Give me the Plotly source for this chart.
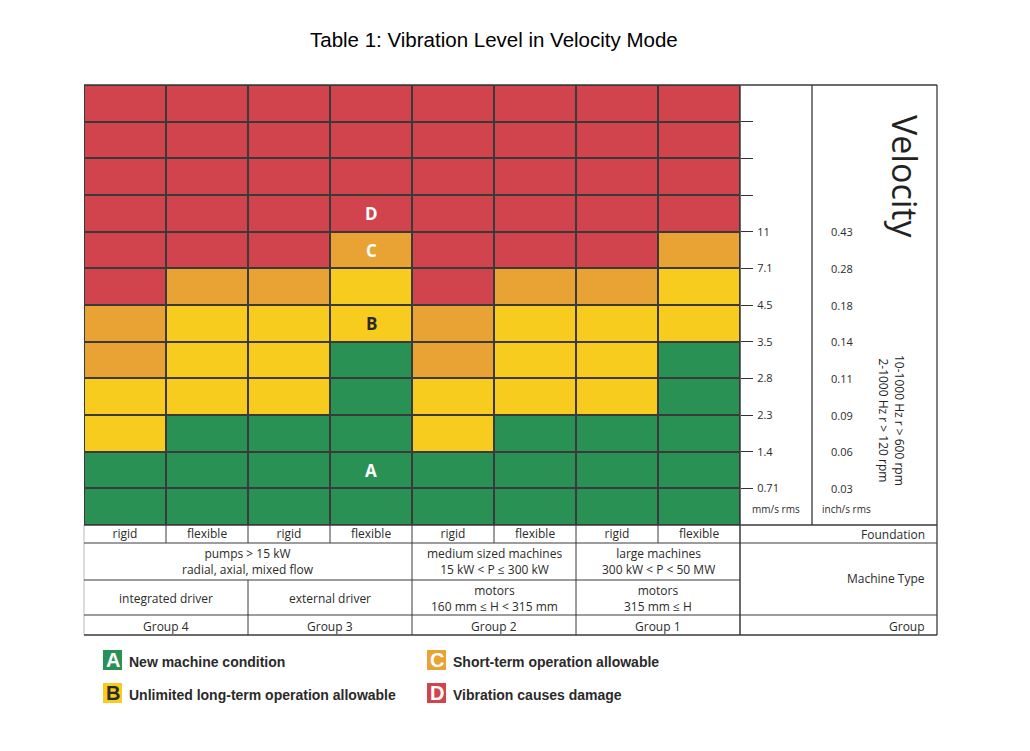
import math
import plotly.graph_objects as go

# ---------------- data ----------------
foundations = ["rigid", "flexible", "rigid", "flexible", "rigid", "flexible", "rigid", "flexible"]
groups = ["Group 4", "Group 3", "Group 2", "Group 1"]
group_cols = [(0, 1), (2, 3), (4, 5), (6, 7)]
machine_types = ["pumps > 15 kW<br>radial, axial, mixed flow",
                 "medium sized machines<br>15 kW < P ≤ 300 kW",
                 "large machines<br>300 kW < P < 50 MW"]
machine_cols = [(0, 3), (4, 5), (6, 7)]
drivers = ["integrated driver", "external driver",
           "motors<br>160 mm ≤ H < 315 mm", "motors<br>315 mm ≤ H"]
driver_cols = [(0, 1), (2, 3), (4, 5), (6, 7)]

# band upper limits, bottom to top (mm/s rms); bands above 11 are unlabeled
mm_values = [0.71, 1.4, 2.3, 2.8, 3.5, 4.5, 7.1, 11]
mm_labels = ["0.71", "1.4", "2.3", "2.8", "3.5", "4.5", "7.1", "11", "", "", ""]
inch_labels = ["0.03", "0.06", "0.09", "0.11", "0.14", "0.18", "0.28", "0.43"]
n_bands = 12

# zone limits per column (mm/s rms)
zone_ab = [1.4, 2.3, 2.3, 3.5, 1.4, 2.3, 2.3, 3.5]
zone_bc = [2.8, 4.5, 4.5, 7.1, 2.8, 4.5, 4.5, 7.1]
zone_cd = [4.5, 7.1, 7.1, 11, 4.5, 7.1, 7.1, 11]

zone_letters = ["A", "B", "C", "D"]
zone_colors = ["#2a9155", "#f8cc1f", "#e8a334", "#d1444e"]
zone_text_colors = ["white", "#2a2a2a", "white", "white"]
zone_descriptions = ["New machine condition", "Unlimited long-term operation allowable",
                     "Short-term operation allowable", "Vibration causes damage"]
letter_band = [1, 5, 7, 8]   # band where each zone letter is printed (column 3)
letter_col = 3

# ---------------- build matrix ----------------
z = []
for b in range(n_bands):
    upper = mm_values[b] if b < len(mm_values) else math.inf
    row = []
    for c in range(len(foundations)):
        if upper <= zone_ab[c]:
            row.append(0)
        elif upper <= zone_bc[c]:
            row.append(1)
        elif upper <= zone_cd[c]:
            row.append(2)
        else:
            row.append(3)
    z.append(row)

colorscale = [[0.0, zone_colors[0]], [0.25, zone_colors[0]],
              [0.25, zone_colors[1]], [0.5, zone_colors[1]],
              [0.5, zone_colors[2]], [0.75, zone_colors[2]],
              [0.75, zone_colors[3]], [1.0, zone_colors[3]]]

# ---------------- layout geometry (page pixels) ----------------
OFF = 8                      # page body margin
W, H = 1014, 735
L, R, T, B = 84, 740, 85, 525   # plot area in page pixels


def px(x):
    return (x - L) / (R - L)


def py(y):
    return (B - y) / (B - T)


FONT = "Open Sans"
TXT = "#2b2b2b"
LINE = "#3a3a3a"

fig = go.Figure()
fig.add_trace(go.Heatmap(
    z=z, x=list(range(len(foundations))), y=list(range(n_bands)),
    colorscale=colorscale, zmin=-0.5, zmax=3.5, showscale=False,
    xgap=2, ygap=2, hoverinfo="skip"))

shapes = []
annotations = []


def ann(**kw):
    kw.setdefault("showarrow", False)
    kw.setdefault("xanchor", "center")
    kw.setdefault("yanchor", "middle")
    annotations.append(kw)


def hline(y, x0, x1, w=1.2, color=LINE):
    shapes.append(dict(type="line", xref="paper", yref="paper",
                       x0=px(x0), x1=px(x1), y0=py(y), y1=py(y),
                       line=dict(color=color, width=w)))


def vline_data(xd, y0, y1, w=1.2):
    shapes.append(dict(type="line", xref="x", yref="paper",
                       x0=xd, x1=xd, y0=py(y0), y1=py(y1),
                       line=dict(color=LINE, width=w)))


def vline(x, y0, y1, w=1.2, color=LINE):
    shapes.append(dict(type="line", xref="paper", yref="paper",
                       x0=px(x), x1=px(x), y0=py(y0), y1=py(y1),
                       line=dict(color=color, width=w)))


# outer frame / right panel
hline(85, 84, 937, 1.5)
vline(937, 85, 635, 1.3)
vline(740, 85, 635, 1.5)
vline(812, 85, 525, 1.3)
vline(84, 525, 635, 0.8, "#aaaaaa")
# bottom table rows
hline(525, 84, 937, 1.5)
hline(543, 84, 937, 1.0)
hline(580, 84, 740, 1.0)
hline(615, 84, 937, 1.0)
hline(635, 84, 937, 1.3)

# vertical separators in bottom table, from column boundaries
for c in range(1, len(foundations)):
    vline_data(c - 0.5, 525, 543, 1.0)
for (a, bcol) in machine_cols[:-1]:
    vline_data(bcol + 0.5, 543, 580, 1.0)
for (a, bcol) in driver_cols[:-1]:
    vline_data(bcol + 0.5, 580, 615, 1.0)
for (a, bcol) in group_cols[:-1]:
    vline_data(bcol + 0.5, 615, 635, 1.0)

tfont = dict(family=FONT, size=12, color=TXT)
# table text
for txt, (a, bcol) in zip(machine_types, machine_cols):
    ann(x=(a + bcol) / 2, y=py(561), xref="x", yref="paper", text=txt, font=tfont)
for txt, (a, bcol) in zip(drivers, driver_cols):
    ann(x=(a + bcol) / 2, y=py(598), xref="x", yref="paper", text=txt, font=tfont)
for txt, (a, bcol) in zip(groups, group_cols):
    ann(x=(a + bcol) / 2, y=py(626), xref="x", yref="paper", text=txt, font=tfont)
for txt, yy in [("Foundation", 534), ("Machine Type", 578), ("Group", 626)]:
    ann(x=px(927), y=py(yy), xref="paper", yref="paper", xanchor="right", text=txt, font=tfont)

# inch/s column
for i, lab in enumerate(inch_labels):
    ann(x=px(829), y=i + 0.5, xref="paper", yref="y", xanchor="left", text=lab,
        font=dict(family=FONT, size=11, color=TXT))
ann(x=px(776), y=py(509), xref="paper", yref="paper", text="mm/s rms",
    font=dict(family=FONT, size=10, color=TXT))
ann(x=px(846), y=py(509), xref="paper", yref="paper", text="inch/s rms",
    font=dict(family=FONT, size=10, color=TXT))
ann(x=px(905), y=py(176), xref="paper", yref="paper", text="Velocity", textangle=90,
    font=dict(family=FONT, size=34, color="#222"))
ann(x=px(892), y=py(420), xref="paper", yref="paper",
    text="10-1000 Hz r > 600 rpm<br>2-1000 Hz r > 120 rpm", textangle=90,
    font=dict(family=FONT, size=12, color="#222"))

# zone letters inside grid
for k, letter in enumerate(zone_letters):
    ann(x=letter_col, y=letter_band[k], xref="x", yref="y", text="<b>%s</b>" % letter,
        font=dict(family=FONT, size=17, color=zone_text_colors[k]))

# legend
legend_pos = [(103, 660), (103, 693), (427, 660), (427, 693)]
for k, letter in enumerate(zone_letters):
    lx, ly = legend_pos[k]
    shapes.append(dict(type="rect", xref="paper", yref="paper",
                       x0=px(lx), x1=px(lx + 19), y0=py(ly - 10), y1=py(ly + 10),
                       fillcolor=zone_colors[k], line=dict(width=0)))
    ann(x=px(lx + 9.5), y=py(ly), xref="paper", yref="paper",
        text="<b>%s</b>" % letter,
        font=dict(family="Liberation Sans", size=20, color=zone_text_colors[k]))
    ann(x=px(lx + 24), y=py(ly + 2), xref="paper", yref="paper", xanchor="left",
        text="<b>%s</b>" % zone_descriptions[k],
        font=dict(family="Liberation Sans", size=14, color="#2a2a2a"))

# title
ann(x=px(494), y=py(40), xref="paper", yref="paper",
    text="Table 1: Vibration Level in Velocity Mode",
    font=dict(family="Liberation Sans", size=20.5, color="#000"))

fig.update_layout(
    width=W, height=H, autosize=False,
    margin=dict(l=L - OFF, r=W - (R - OFF), t=T - OFF, b=H - (B - OFF), pad=0),
    paper_bgcolor="white", plot_bgcolor="#3a3a3a",
    shapes=shapes, annotations=annotations, showlegend=False,
    xaxis=dict(range=[-0.5, len(foundations) - 0.5], tickmode="array",
               tickvals=list(range(len(foundations))), ticktext=foundations,
               ticks="", showgrid=False, zeroline=False, showline=False, fixedrange=True,
               tickfont=tfont),
    yaxis=dict(range=[-0.5, n_bands - 0.5], side="right", tickmode="array",
               tickvals=[b + 0.5 for b in range(n_bands - 1)], ticktext=mm_labels,
               ticks="outside", ticklen=12, tickwidth=1.3, tickcolor="#333",
               ticklabelstandoff=2,
               showgrid=False, zeroline=False, showline=False, fixedrange=True,
               tickfont=dict(family=FONT, size=11, color=TXT)),
)

fig.write_html("out.html")
